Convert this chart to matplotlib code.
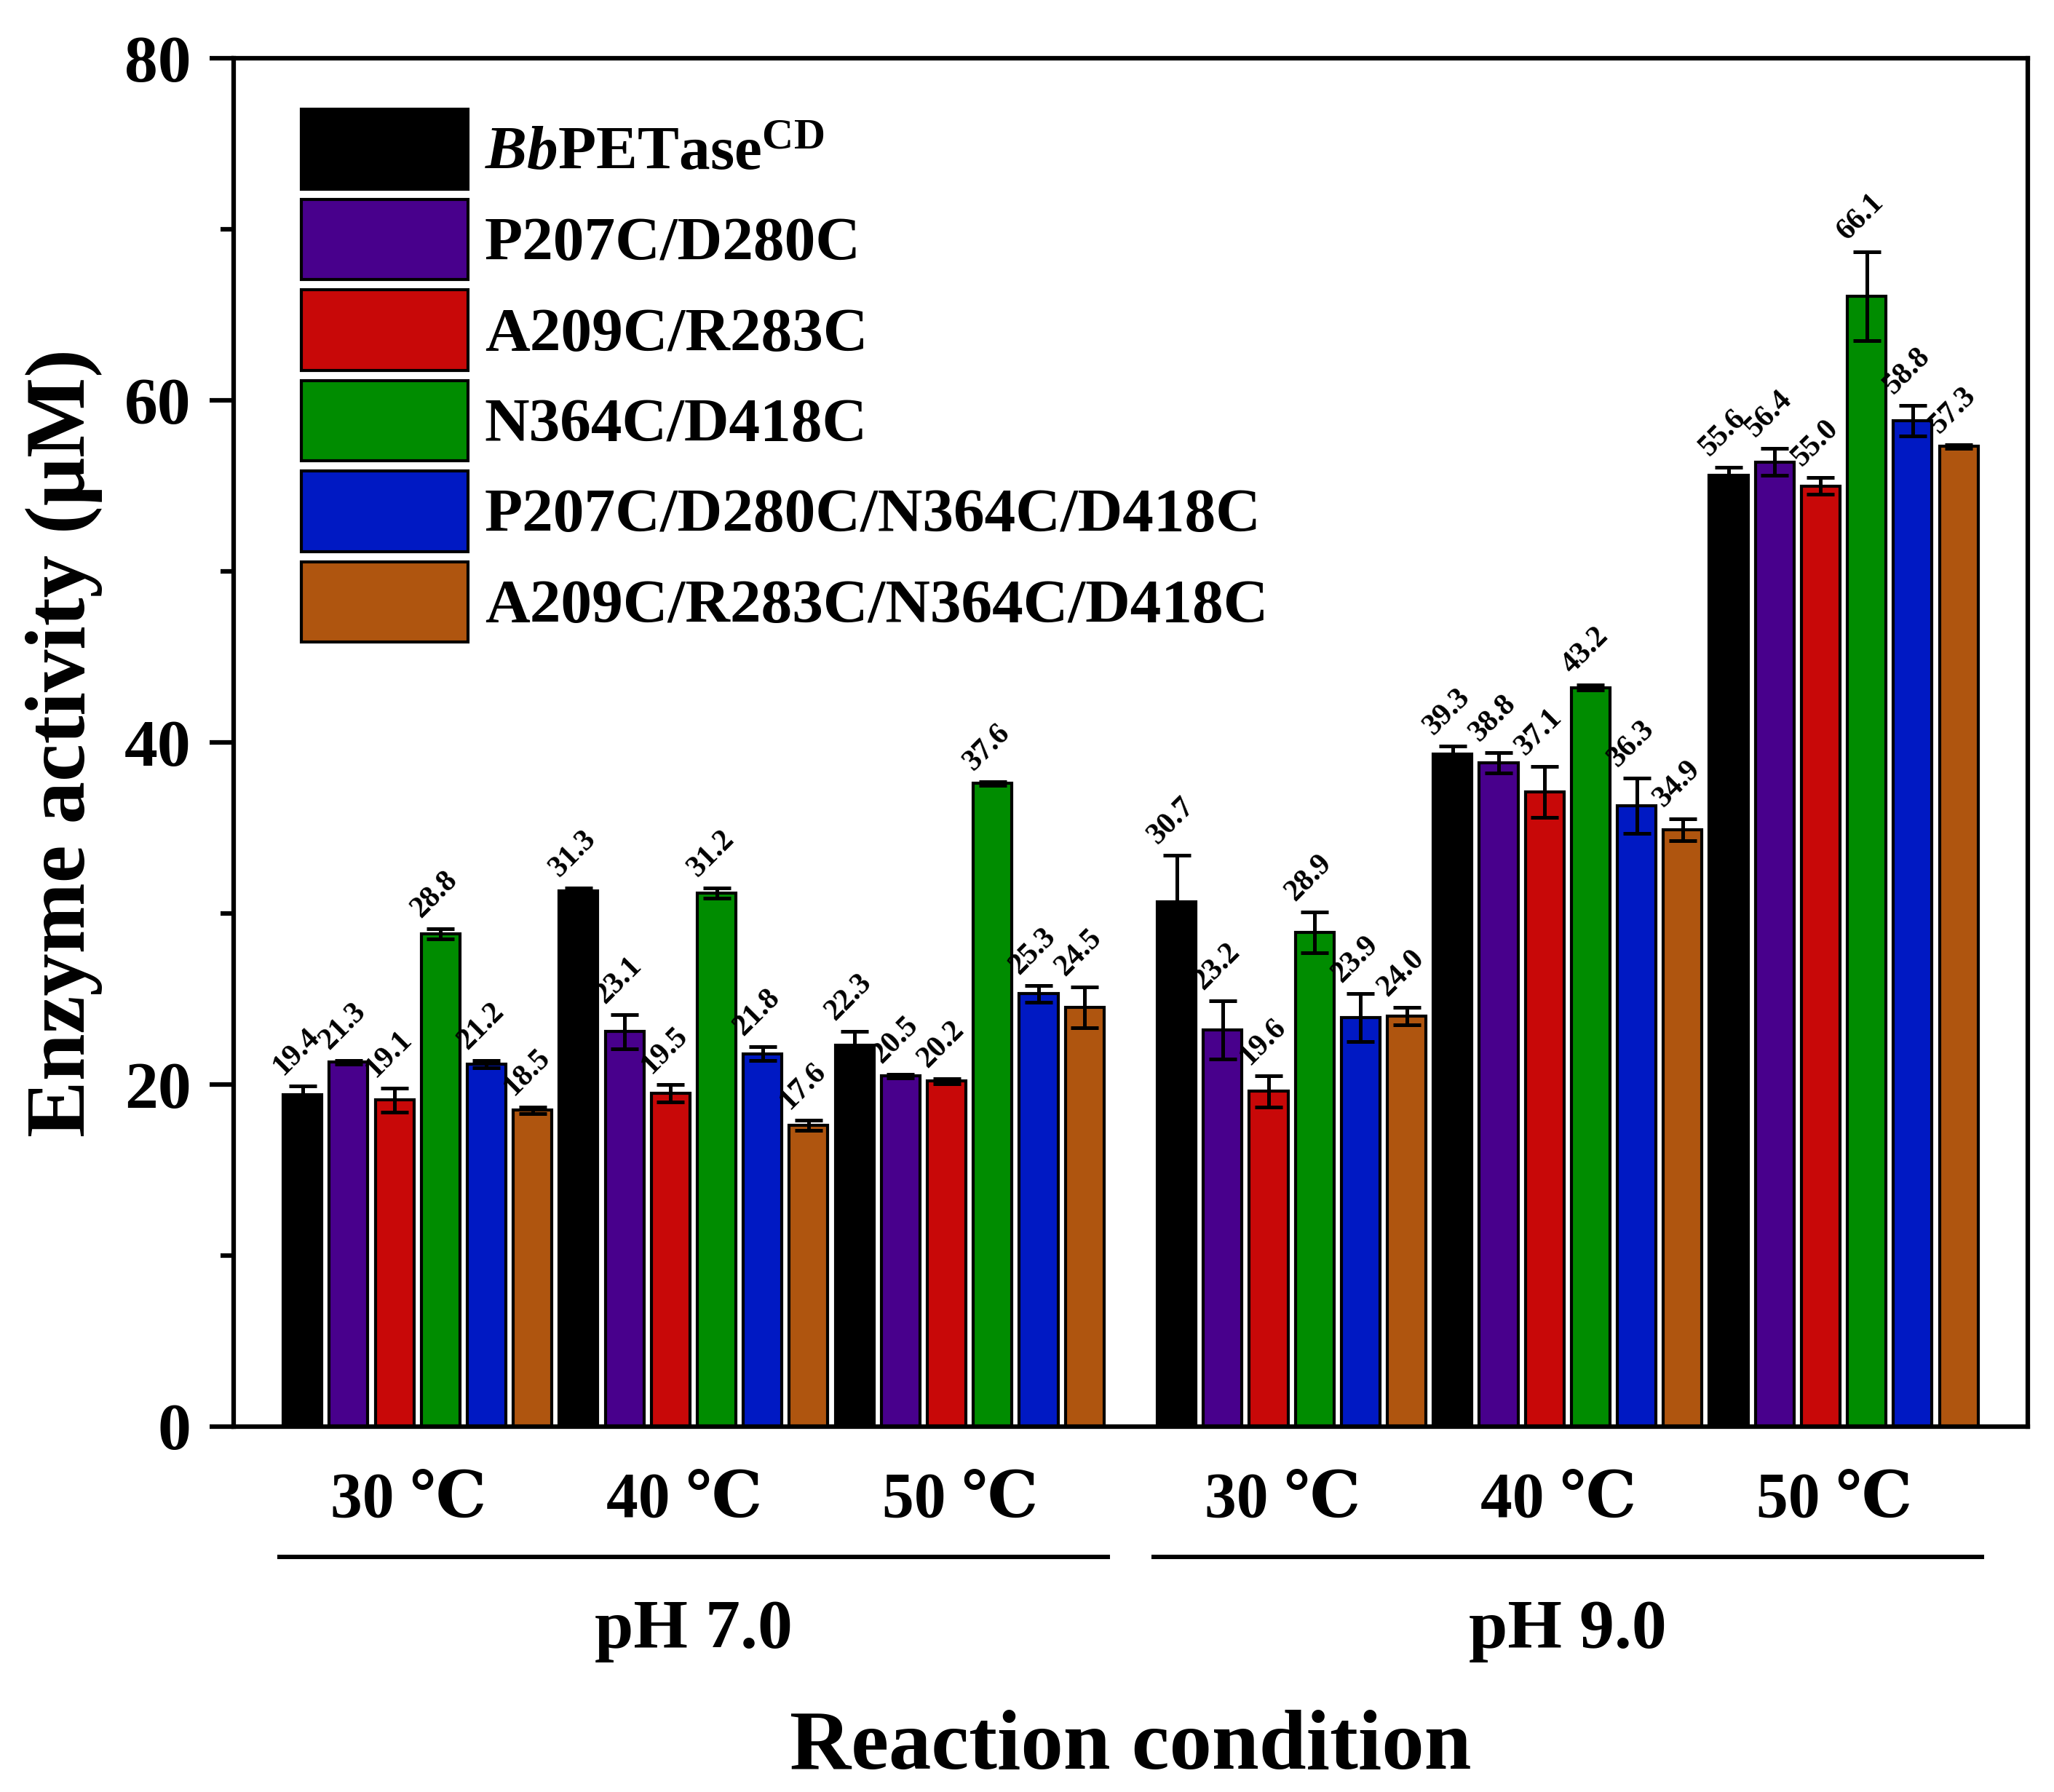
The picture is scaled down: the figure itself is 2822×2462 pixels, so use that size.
import matplotlib
matplotlib.use('Agg')
import matplotlib.pyplot as plt
import matplotlib.transforms as mtransforms
from matplotlib.ticker import MultipleLocator

plt.rcParams['font.family'] = ['Liberation Serif', 'DejaVu Serif']
plt.rcParams['font.weight'] = 'bold'
plt.rcParams['mathtext.fontset'] = 'custom'
plt.rcParams['mathtext.rm'] = 'Liberation Serif:bold'
plt.rcParams['mathtext.it'] = 'Liberation Serif:italic:bold'
plt.rcParams['mathtext.bf'] = 'Liberation Serif:bold'

# conditions (temperature within pH)
temps = ['30 \u2103', '40 \u2103', '50 \u2103', '30 \u2103', '40 \u2103', '50 \u2103']
ph_labels = ['pH 7.0', 'pH 9.0']

variants = [r'$\mathit{Bb}$PETase$^{\mathrm{CD}}$', 'P207C/D280C', 'A209C/R283C',
            'N364C/D418C', 'P207C/D280C/N364C/D418C', 'A209C/R283C/N364C/D418C']
colors = ['#000000', '#48008C', '#C80808', '#008C00', '#0019C3', '#AF550F']

# values for each variant over the 6 conditions
bb_vals = [19.4, 31.3, 22.3, 30.7, 39.3, 55.6]
p207_vals = [21.3, 23.1, 20.5, 23.2, 38.8, 56.4]
a209_vals = [19.1, 19.5, 20.2, 19.6, 37.1, 55.0]
n364_vals = [28.8, 31.2, 37.6, 28.9, 43.2, 66.1]
p207n364_vals = [21.2, 21.8, 25.3, 23.9, 36.3, 58.8]
a209n364_vals = [18.5, 17.6, 24.5, 24.0, 34.9, 57.3]

bb_err = [0.5, 0.2, 0.8, 2.7, 0.5, 0.5]
p207_err = [0.1, 1.0, 0.1, 1.7, 0.6, 0.8]
a209_err = [0.7, 0.5, 0.15, 0.9, 1.5, 0.5]
n364_err = [0.3, 0.3, 0.1, 1.2, 0.15, 2.6]
p207n364_err = [0.2, 0.4, 0.5, 1.4, 1.6, 0.9]
a209n364_err = [0.2, 0.3, 1.2, 0.5, 0.65, 0.1]

all_vals = [bb_vals, p207_vals, a209_vals, n364_vals, p207n364_vals, a209n364_vals]
all_err = [bb_err, p207_err, a209_err, n364_err, p207n364_err, a209n364_err]

fig = plt.figure(figsize=(2822 / 300, 2462 / 300), dpi=300)
ax = fig.add_axes([0.1137, 0.2039, 0.8735, 0.7636])

nvar = len(variants)
def xpos(g, j):
    # one empty slot between the two pH blocks
    return g * nvar + j + (1 if g >= 3 else 0)

for j in range(nvar):
    xs = [xpos(g, j) for g in range(len(temps))]
    ax.bar(xs, all_vals[j], width=0.84, color=colors[j], edgecolor='black', linewidth=1.0,
           yerr=all_err[j], capsize=4.6,
           error_kw=dict(elinewidth=1.2, capthick=1.2, ecolor='black'),
           label=variants[j], zorder=2)
    for x, v, e in zip(xs, all_vals[j], all_err[j]):
        ax.text(x - 0.42, v + e + 0.6, f'{v:.1f}', rotation=45, rotation_mode='anchor',
                ha='left', va='baseline', fontsize=10, zorder=3)

ax.set_xlim(-1.5, 37.5)
ax.set_ylim(0, 80)
ax.set_xticks([])
ax.yaxis.set_major_locator(MultipleLocator(20))
ax.yaxis.set_minor_locator(MultipleLocator(10))
ax.tick_params(axis='y', which='major', direction='out', length=8, width=1.5, labelsize=22, pad=6)
ax.tick_params(axis='y', which='minor', direction='out', length=4.3, width=1.5)
for s in ax.spines.values():
    s.set_linewidth(1.5)

ax.set_ylabel('Enzyme activity (\u03bcM)', fontsize=28, fontweight='bold')
ax.yaxis.set_label_coords(-0.073, 0.5)

trans = mtransforms.blended_transform_factory(ax.transData, ax.transAxes)
for g, t in enumerate(temps):
    xs = [xpos(g, j) for j in range(nvar)]
    ax.text(sum(xs) / nvar - 0.2, -0.0665, t, transform=trans, ha='center', va='baseline', fontsize=21)

for p, lab in enumerate(ph_labels):
    xs = [xpos(g, j) for g in range(p * 3, p * 3 + 3) for j in range(nvar)]
    x0, x1 = min(xs) - 0.5, max(xs) + 0.5
    ax.plot([x0, x1], [-0.0952, -0.0952], transform=trans, color='black', lw=1.45, clip_on=False)
    ax.text((x0 + x1) / 2, -0.1617, lab, transform=trans, ha='center', va='baseline', fontsize=23)

ax.text(0.5, -0.25, 'Reaction condition', transform=ax.transAxes, ha='center', va='baseline',
        fontsize=28, fontweight='bold')

ax.legend(loc='upper left', bbox_to_anchor=(0.0377, 0.963), frameon=False,
          prop={'size': 20.5, 'weight': 'bold'}, handlelength=2.68, handleheight=1.61,
          labelspacing=0.165, handletextpad=0.27, borderpad=0, borderaxespad=0)

fig.savefig('out.png', dpi=300)
